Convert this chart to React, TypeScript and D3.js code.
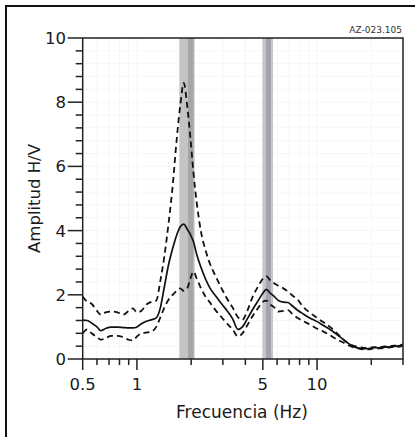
import * as d3 from 'd3';

const W = 415;
const H = 437;
const FONT = '"DejaVu Sans", Verdana, sans-serif';

// frequency grid (Hz) shared by the three H/V curves
const freq = [
  0.5, 0.53, 0.56, 0.6, 0.63, 0.67, 0.72, 0.78, 0.84, 0.9, 0.95, 1.0, 1.06, 1.12, 1.2, 1.28,
  1.35, 1.42, 1.5, 1.58, 1.66, 1.74, 1.82, 1.9, 1.98, 2.06, 2.15, 2.27, 2.4, 2.55, 2.75, 2.95,
  3.15, 3.4, 3.64, 3.85, 4.1, 4.4, 4.75, 5.0, 5.23, 5.5, 5.8, 6.1, 6.5, 6.9, 7.3, 7.8, 8.4,
  9.1, 9.9, 10.8, 11.8, 12.8, 13.9, 15.0, 16.2, 17.5, 19.0, 20.5, 22.0, 24.0, 26.0, 28.0, 30.0,
];

// mean H/V
const hvMean = [
  1.21, 1.2, 1.12, 1.0, 0.88, 0.95, 0.99, 0.99, 0.98, 0.97, 0.97, 1.0, 1.1, 1.17, 1.22, 1.28,
  1.6, 2.25, 2.95, 3.45, 3.85, 4.12, 4.2, 4.05, 3.88, 3.65, 3.25, 2.85, 2.5, 2.2, 1.95, 1.72,
  1.52, 1.25, 0.92, 1.0, 1.25, 1.55, 1.85, 2.05, 2.17, 2.05, 1.94, 1.82, 1.77, 1.76, 1.65, 1.52, 1.4,
  1.28, 1.18, 1.05, 0.92, 0.78, 0.62, 0.48, 0.37, 0.33, 0.32, 0.35, 0.35, 0.37, 0.39, 0.4, 0.44,
];

// mean + std
const hvUpper = [
  1.95, 1.78, 1.72, 1.5, 1.38, 1.45, 1.48, 1.45, 1.38, 1.5, 1.58, 1.45, 1.5, 1.68, 1.78, 1.82,
  2.45, 3.2, 4.25, 5.4, 6.8, 7.9, 8.6, 7.9, 6.9, 5.8, 4.85, 3.95, 3.4, 2.95, 2.55, 2.2,
  1.9, 1.6, 1.3, 1.22, 1.5, 1.95, 2.3, 2.5, 2.58, 2.45, 2.35, 2.28, 2.2, 2.1, 1.98, 1.85, 1.62,
  1.45, 1.3, 1.15, 1.0, 0.82, 0.62, 0.48, 0.4, 0.36, 0.34, 0.37, 0.37, 0.39, 0.41, 0.42, 0.46,
];

// mean - std
const hvLower = [
  0.8, 0.92, 0.8, 0.68, 0.6, 0.65, 0.72, 0.72, 0.68, 0.6, 0.58, 0.7, 0.8, 0.82, 0.85, 1.0,
  1.3, 1.6, 1.85, 2.0, 2.12, 2.2, 2.12, 2.2, 2.5, 2.72, 2.5, 2.2, 1.95, 1.75, 1.5, 1.3,
  1.12, 0.92, 0.7, 0.8, 1.05, 1.35, 1.62, 1.78, 1.82, 1.7, 1.6, 1.48, 1.5, 1.52, 1.4, 1.28, 1.18,
  1.08, 0.96, 0.86, 0.74, 0.62, 0.52, 0.42, 0.35, 0.31, 0.3, 0.32, 0.33, 0.35, 0.37, 0.38, 0.42,
];

// peak frequency bands: [from, to] outer and inner
const bandOuter = [[1.72, 2.09], [4.97, 5.7]];
const bandInner = [[1.92, 2.06], [5.2, 5.55]];
const bandOuterColor = ['#c4c4c4', '#c6c6cc'];
const bandInnerColor = ['#a6a6a6', '#a4a4ae'];

const xLabels = [0.5, 1, 5, 10];
const xMinor = [0.6, 0.7, 0.8, 0.9, 2, 3, 4, 6, 7, 8, 9, 20, 30];
const yLabels = [0, 2, 4, 6, 8, 10];

const m = { left: 82.7, right: 403, top: 38, bottom: 359 };

export default function App() {
  const x = d3.scaleLog().domain([0.5, 30]).range([m.left, m.right]);
  const y = d3.scaleLinear().domain([0, 10]).range([m.bottom, m.top]);

  const pts = (vals: number[]) => freq.map((f, i) => [f, vals[i]] as [number, number]);
  const line = d3.line<[number, number]>()
    .x(d => x(d[0]))
    .y(d => y(d[1]))
    .curve(d3.curveMonotoneX);

  const yMinor = d3.range(0, 10.001, 0.4).map(v => +v.toFixed(1));

  return (
    <svg width={W} height={H} style={{ position: 'absolute', left: 0, top: 0, background: '#fff' }}
      fontFamily={FONT}>
      <rect x={0} y={0} width={W} height={H} fill="#fff" />
      {/* outer frame */}
      <rect x={6} y={6} width={W + 10} height={H + 10} fill="none" stroke="#111" strokeWidth={2} />

      {/* faint grid */}
      {yMinor.map(v => (
        <line key={'gy' + v} x1={m.left} x2={m.right} y1={y(v)} y2={y(v)} stroke="#f6f6f6" strokeWidth={1} />
      ))}
      {[...xLabels, ...xMinor].map(f => (
        <line key={'gx' + f} x1={x(f)} x2={x(f)} y1={m.top} y2={m.bottom} stroke="#f6f6f6" strokeWidth={1} />
      ))}

      {/* peak bands */}
      {bandOuter.map((b, i) => (
        <rect key={'bo' + i} x={x(b[0])} y={m.top} width={x(b[1]) - x(b[0])} height={m.bottom - m.top}
          fill={bandOuterColor[i]} />
      ))}
      {bandInner.map((b, i) => (
        <rect key={'bi' + i} x={x(b[0])} y={m.top} width={x(b[1]) - x(b[0])} height={m.bottom - m.top}
          fill={bandInnerColor[i]} />
      ))}

      {/* curves */}
      <path d={line(pts(hvUpper)) || ''} fill="none" stroke="#111" strokeWidth={1.8} strokeDasharray="6,4" />
      <path d={line(pts(hvLower)) || ''} fill="none" stroke="#111" strokeWidth={1.8} strokeDasharray="6,4" />
      <path d={line(pts(hvMean)) || ''} fill="none" stroke="#111" strokeWidth={1.7} />

      {/* plot box */}
      <rect x={m.left} y={m.top} width={m.right - m.left} height={m.bottom - m.top}
        fill="none" stroke="#222" strokeWidth={1.5} />

      {/* y ticks */}
      {yMinor.map(v => (
        <line key={'ty' + v} x1={m.left} x2={m.left - (v % 2 === 0 ? 15 : 7)} y1={y(v)} y2={y(v)}
          stroke="#222" strokeWidth={1.5} />
      ))}
      {yLabels.map(v => (
        <text key={'ly' + v} x={66} y={y(v)} dy="0.36em" textAnchor="end" fontSize={16.5} fill="#1a1a1a">{v}</text>
      ))}

      {/* x ticks */}
      {xLabels.map(f => (
        <line key={'tx' + f} x1={x(f)} x2={x(f)} y1={m.bottom} y2={m.bottom + 11} stroke="#222" strokeWidth={1.5} />
      ))}
      {xMinor.map(f => (
        <line key={'tm' + f} x1={x(f)} x2={x(f)} y1={m.bottom} y2={m.bottom + 6} stroke="#222" strokeWidth={1.5} />
      ))}
      {xLabels.map(f => (
        <text key={'lx' + f} x={x(f)} y={390} textAnchor="middle" fontSize={16.5} fill="#1a1a1a">{f}</text>
      ))}

      <text x={242} y={418} textAnchor="middle" fontSize={17} fill="#1a1a1a">Frecuencia (Hz)</text>
      <text transform={`translate(40,${(m.top + m.bottom) / 2}) rotate(-90)`} textAnchor="middle"
        fontSize={16.5} fill="#1a1a1a">Amplitud H/V</text>
      <text x={402} y={33} textAnchor="end" fontSize={9} fill="#333">AZ-023.105</text>
    </svg>
  );
}
